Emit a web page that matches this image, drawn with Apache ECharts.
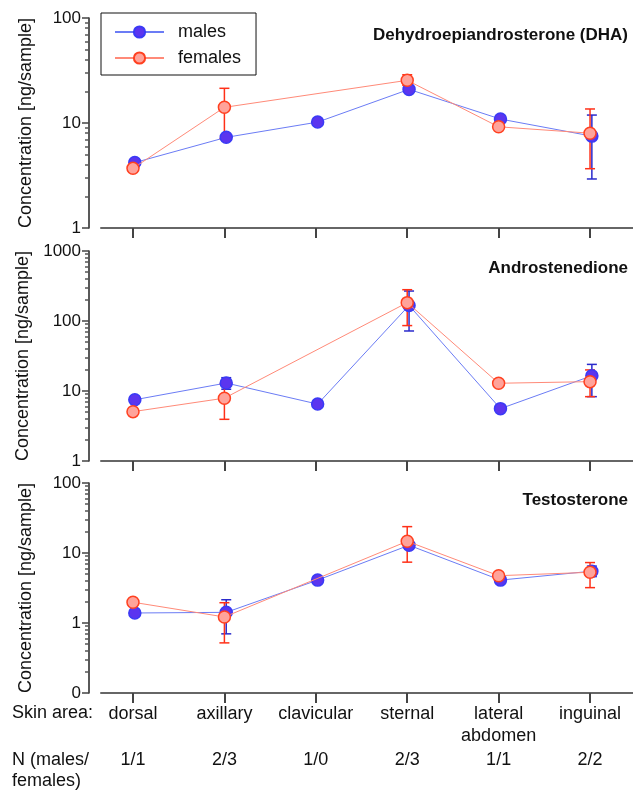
<!DOCTYPE html>
<html>
<head>
<meta charset="utf-8">
<script src="https://cdn.jsdelivr.net/npm/echarts@6/dist/echarts.min.js"></script>
<style>
  html, body { margin: 0; padding: 0; background: #fff; }
  #chart { width: 633px; height: 790px; }
</style>
</head>
<body>
<div id="chart"></div>
<script>
// skin areas and sample sizes
var categories = ['dorsal', 'axillary', 'clavicular', 'sternal', 'lateral\nabdomen', 'inguinal'];
var nLabels = ['1/1', '2/3', '1/0', '2/3', '1/1', '2/2'];
var hormones = ['Dehydroepiandrosterone (DHA)', 'Androstenedione', 'Testosterone'];

// DHA
var dhaMales = [4.2, 7.3, 10.2, 20.9, 10.9, 7.5];
var dhaMalesLow = [null, null, null, null, null, 2.93];
var dhaMalesHigh = [null, null, null, null, null, 11.9];
var dhaFemales = [3.7, 14.1, null, 25.5, 9.2, 8.0];
var dhaFemalesLow = [null, 7.1, null, 22.9, null, 3.67];
var dhaFemalesHigh = [null, 21.4, null, 28.8, null, 13.6];

// Androstenedione
var andMales = [7.5, 13.0, 6.5, 167, 5.6, 16.5];
var andMalesLow = [null, 10.6, null, 72, null, 8.3];
var andMalesHigh = [null, 15.5, null, 268, null, 24];
var andFemales = [5.07, 7.9, null, 183, 12.9, 13.6];
var andFemalesLow = [null, 3.94, null, 86, null, 8.3];
var andFemalesHigh = [null, 12.5, null, 280, null, 20];

// Testosterone
var tesMales = [1.39, 1.42, 4.1, 12.9, 4.1, 5.5];
var tesMalesLow = [null, 0.70, null, 11.4, null, 4.6];
var tesMalesHigh = [null, 2.15, null, 13.5, null, 6.5];
var tesFemales = [1.98, 1.22, null, 14.7, 4.74, 5.3];
var tesFemalesLow = [null, 0.52, null, 7.4, null, 3.2];
var tesFemalesHigh = [null, 1.95, null, 23.8, null, 7.3];

// y ranges and major ticks per panel
var yMin = [1, 1, 0.1];
var yMax = [100, 1000, 100];
var yMajor = [[1, 10, 100], [1, 10, 100, 1000], [0.1, 1, 10, 100]];

var FONT = "'Liberation Sans', Arial, sans-serif";
var maleShift = 0.02;
var COLORS = {
	maleFill: '#5b35ef', maleBorder: '#3a3af5', maleLine: '#6b7cf5', maleBar: '#2a2acc',
	femaleFill: '#ffa39a', femaleBorder: '#ff4020', femaleLine: '#ff8a78', femaleBar: '#ff3018'
};

var panels = [
	{m: dhaMales, mLo: dhaMalesLow, mHi: dhaMalesHigh, f: dhaFemales, fLo: dhaFemalesLow, fHi: dhaFemalesHigh},
	{m: andMales, mLo: andMalesLow, mHi: andMalesHigh, f: andFemales, fLo: andFemalesLow, fHi: andFemalesHigh},
	{m: tesMales, mLo: tesMalesLow, mHi: tesMalesHigh, f: tesFemales, fLo: tesFemalesLow, fHi: tesFemalesHigh}
];

var gridTops = [18, 251, 483];
var catIdx = categories.map(function (c, i) { return i; });

function minorTicks(min, max) {
	var out = [];
	for (var d = min; d < max * 0.99; d *= 10) {
		for (var k = 2; k <= 9; k++) out.push(+(k * d).toPrecision(3));
	}
	return out;
}

function points(vals, shift) {
	var out = [];
	vals.forEach(function (v, i) { if (v != null) out.push([i + shift, v]); });
	return out;
}

function bars(lo, hi, shift) {
	var out = [];
	lo.forEach(function (v, i) { if (v != null) out.push([i + shift, v, hi[i]]); });
	return out;
}

function renderBar(color) {
	return function (params, api) {
		var x = api.value(0);
		var p1 = api.coord([x, api.value(2)]);
		var p2 = api.coord([x, api.value(1)]);
		var w = 5;
		var st = {stroke: color, lineWidth: 1.5};
		return {
			type: 'group',
			children: [
				{type: 'line', shape: {x1: p1[0], y1: p1[1], x2: p2[0], y2: p2[1]}, style: st},
				{type: 'line', shape: {x1: p1[0] - w, y1: p1[1], x2: p1[0] + w, y2: p1[1]}, style: st},
				{type: 'line', shape: {x1: p2[0] - w, y1: p2[1], x2: p2[0] + w, y2: p2[1]}, style: st}
			]
		};
	};
}

var grids = [], xAxes = [], yAxes = [], series = [], titles = [];

panels.forEach(function (p, g) {
	grids.push({left: 101, right: 0, top: gridTops[g], height: 210});

	xAxes.push({
		type: 'value', gridIndex: g, min: -0.35, max: 5.47,
		axisLine: {show: true, onZero: false, lineStyle: {color: '#666', width: 2}},
		axisTick: {show: true, length: 10, customValues: catIdx, lineStyle: {color: '#444', width: 2}},
		axisLabel: {
			show: g === 2, customValues: catIdx, margin: 10,
			fontFamily: FONT, fontSize: 18, color: '#111', lineHeight: 22,
			formatter: function (v) { return categories[Math.round(v)]; }
		},
		splitLine: {show: false}
	});

	yAxes.push({
		type: 'log', gridIndex: g, position: 'left', min: yMin[g], max: yMax[g], offset: 12,
		name: 'Concentration [ng/sample]', nameLocation: 'middle', nameGap: 54,
		nameTextStyle: {fontFamily: FONT, fontSize: 18, color: '#111'},
		axisLine: {show: true, onZero: false, lineStyle: {color: '#222', width: 1.5}},
		axisTick: {show: true, length: 7, customValues: yMajor[g], lineStyle: {color: '#444', width: 1.5}},
		axisLabel: {
			customValues: yMajor[g], margin: 8, fontFamily: FONT, fontSize: 17, color: '#111',
			formatter: function (v) { return v < 0.5 ? '0' : String(v); }
		},
		splitLine: {show: false}
	});

	titles.push({
		text: hormones[g], right: 5, top: gridTops[g] + 9, padding: 0,
		textStyle: {fontFamily: FONT, fontSize: 17, fontWeight: 'bold', color: '#111'}
	});
});

// minor log ticks
panels.forEach(function (p, g) {
	yAxes.push({
		type: 'log', gridIndex: g, position: 'left', min: yMin[g], max: yMax[g], offset: 12,
		axisLine: {show: false, onZero: false},
		axisTick: {show: true, length: 4, customValues: minorTicks(yMin[g], yMax[g]), lineStyle: {color: '#555', width: 1.5}},
		axisLabel: {show: false},
		splitLine: {show: false}
	});
});

// N row below bottom panel
xAxes.push({
	type: 'value', gridIndex: 2, min: -0.35, max: 5.47, position: 'bottom', offset: 46,
	axisLine: {show: false, onZero: false}, axisTick: {show: false}, splitLine: {show: false},
	axisLabel: {
		customValues: catIdx, margin: 12, fontFamily: FONT, fontSize: 18, color: '#111',
		formatter: function (v) { return nLabels[Math.round(v)]; }
	}
});

panels.forEach(function (p, g) {
	series.push({
		name: 'males err', type: 'custom', xAxisIndex: g, yAxisIndex: g, z: 1,
		renderItem: renderBar(COLORS.maleBar), encode: {x: 0, y: [1, 2]},
		data: bars(p.mLo, p.mHi, maleShift)
	});
	series.push({
		name: 'females err', type: 'custom', xAxisIndex: g, yAxisIndex: g, z: 1,
		renderItem: renderBar(COLORS.femaleBar), encode: {x: 0, y: [1, 2]},
		data: bars(p.fLo, p.fHi, 0)
	});
	series.push({
		name: 'males', type: 'line', xAxisIndex: g, yAxisIndex: g, z: 2,
		symbol: 'circle', symbolSize: 12,
		lineStyle: {color: COLORS.maleLine, width: 1},
		itemStyle: {color: COLORS.maleFill, borderColor: COLORS.maleBorder, borderWidth: 1.5},
		data: points(p.m, maleShift)
	});
	series.push({
		name: 'females', type: 'line', xAxisIndex: g, yAxisIndex: g, z: 3,
		symbol: 'circle', symbolSize: 12,
		lineStyle: {color: COLORS.femaleLine, width: 1},
		itemStyle: {color: COLORS.femaleFill, borderColor: COLORS.femaleBorder, borderWidth: 1.5},
		data: points(p.f, 0)
	});
});

var myChart = echarts.init(document.getElementById('chart'));
myChart.setOption({
	animation: false,
	backgroundColor: '#fff',
	title: titles,
	legend: {
		data: ['males', 'females'], orient: 'vertical', left: 101, top: 13,
		backgroundColor: '#fff', borderColor: '#111', borderWidth: 1,
		padding: [10, 15, 8, 13], itemWidth: 49, itemHeight: 14, itemGap: 8,
		textStyle: {fontFamily: FONT, fontSize: 18, color: '#111', padding: [0, 0, 0, 9]}
	},
	grid: grids,
	xAxis: xAxes,
	yAxis: yAxes,
	graphic: [
		{type: 'text', left: 12, top: 704, style: {text: 'Skin area:', font: '18px ' + FONT, fill: '#111'}},
		{type: 'text', left: 12, top: 750, style: {text: 'N (males/\nfemales)', font: '18px ' + FONT, fill: '#111', lineHeight: 21}}
	],
	series: series
});
</script>
</body>
</html>
